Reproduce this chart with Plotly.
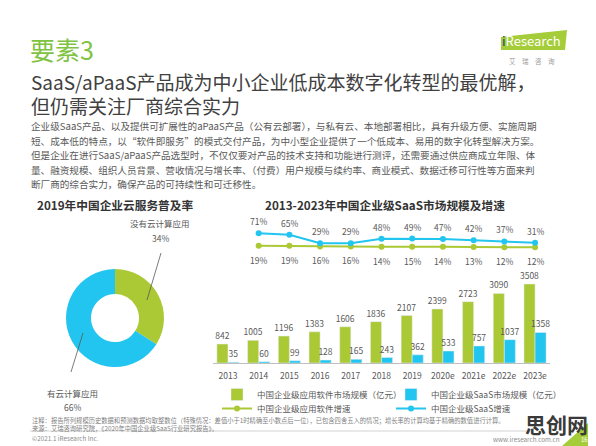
import plotly.graph_objects as go

FONT = "Noto Sans CJK SC"
GREEN, BLUE, LOGO_GREEN = "#abc934", "#22c5ef", "#80c241"
DARK, GREY, LIGHT = "#404040", "#595959", "#bfbfbf"
OFF = 8  # page body margin
W, H = 596 - OFF, 446 - OFF

# data
years = ["2013", "2014", "2015", "2016", "2017", "2018", "2019", "2020e", "2021e", "2022e", "2023e"]
software_size = [842, 1005, 1196, 1383, 1606, 1836, 2107, 2399, 2723, 3090, 3508]
saas_size = [35, 60, 99, 128, 165, 243, 362, 533, 757, 1037, 1358]
growth_years = years[1:]
software_growth = [19, 19, 16, 16, 14, 15, 14, 13, 12, 12]
saas_growth = [71, 65, 29, 29, 48, 49, 47, 42, 37, 31]
cloud_labels = ["没有云计算应用", "有云计算应用"]
cloud_share = [34, 66]

body = [
    "企业级SaaS产品、以及提供可扩展性的aPaaS产品（公有云部署），与私有云、本地部署相比，具有升级方便、实施周期",
    "短、成本低的特点，以“软件即服务”的模式交付产品，为中小型企业提供了一个低成本、易用的数字化转型解决方案。",
    "但是企业在进行SaaS/aPaaS产品选型时，不仅仅要对产品的技术支持和功能进行测评，还需要通过供应商成立年限、体",
    "量、融资规模、组织人员背景、营收情况与增长率、（付费）用户规模与续约率、商业模式、数据迁移可行性等方面来判",
    "断厂商的综合实力，确保产品的可持续性和可迁移性。",
]


def px(x):
    return (x - OFF) / W


def py(y):
    return 1 - (y - OFF) / H


fig = go.Figure()

# donut
fig.add_pie(labels=cloud_labels, values=cloud_share, hole=0.49, sort=False, direction="clockwise",
            marker=dict(colors=[GREEN, BLUE], line=dict(width=0)), textinfo="none", showlegend=False,
            hoverinfo="label+percent",
            domain=dict(x=[px(66), px(164)], y=[py(367), py(269)]))

# bars
fig.add_bar(x=years, y=software_size, name="中国企业级应用软件市场规模（亿元）", marker_color=GREEN,
            text=software_size, textposition="outside", constraintext="none", cliponaxis=False,
            textfont=dict(size=8.5, color=GREY), legend="legend")
fig.add_bar(x=years, y=saas_size, name="中国企业级SaaS市场规模（亿元）", marker_color=BLUE,
            text=saas_size, textposition="outside", constraintext="none", cliponaxis=False,
            textfont=dict(size=8.5, color=GREY), legend="legend")

# growth lines
fig.add_scatter(x=growth_years, y=software_growth, xaxis="x2", yaxis="y2", mode="lines+markers",
                line=dict(color=GREEN, width=2), marker=dict(size=6, color=GREEN),
                name="中国企业级应用软件增速", legend="legend2", cliponaxis=False)
fig.add_scatter(x=growth_years, y=saas_growth, xaxis="x2", yaxis="y2", mode="lines+markers",
                line=dict(color=BLUE, width=2), marker=dict(size=6, color=BLUE),
                name="中国企业级SaaS增速", legend="legend2", cliponaxis=False)

ann = []
# category axes take an index for annotation positions
for x, v in zip(growth_years, saas_growth):
    ann.append(dict(x=years.index(x), y=v, xref="x2", yref="y2", text=f"{v}%", showarrow=False,
                    yshift=12, font=dict(size=8.5, color=GREY)))
for x, v in zip(growth_years, software_growth):
    ann.append(dict(x=years.index(x), y=v, xref="x2", yref="y2", text=f"{v}%", showarrow=False,
                    yshift=-14, font=dict(size=8.5, color=GREY)))


def txt(x, y, s, size, color=GREY, anchor="left", bold=False):
    ann.append(dict(x=px(x), y=py(y), xref="paper", yref="paper", text=f"<b>{s}</b>" if bold else s,
                    showarrow=False, xanchor=anchor, yanchor="middle", font=dict(size=size, color=color)))


txt(28, 48.5, "要素3", 25, LOGO_GREEN)
txt(29, 82, "SaaS/aPaaS产品成为中小企业低成本数字化转型的最优解，", 19, DARK)
txt(29, 106, "但仍需关注厂商综合实力", 19, DARK)
for i, line in enumerate(body):
    txt(29, 126 + 14.6 * i, line, 9.6, GREY)

txt(115, 205, "2019年中国企业云服务普及率", 11.7, "#333333", "center", bold=True)
txt(385, 205, "2013-2023年中国企业级SaaS市场规模及增速", 11.7, "#333333", "center", bold=True)
txt(160, 223, cloud_labels[0], 8.5, GREY, "center")
txt(160, 238, f"{cloud_share[0]}%", 8.5, GREY, "center")
txt(72, 393, cloud_labels[1], 8.5, GREY, "center")
txt(72, 407, f"{cloud_share[1]}%", 8.5, GREY, "center")

txt(30, 420, "注释：报告所列规模历史数据和预测数据均取整数位（特殊情况：差值小于1时精确至小数点后一位），已包含四舍五入的情况；增长率的计算均基于精确的数值进行计算。", 6.3, "#7f7f7f")
txt(30, 428, "来源：艾瑞咨询研究院，《2020年中国企业级SaaS行业研究报告》。", 6.3, "#7f7f7f")
txt(30, 438.5, "©2021.1 iResearch Inc.", 6.3, "#8c8c8c")
txt(562, 439, "www.iresearch.com.cn", 6.3, "#8c8c8c", "right")

# logo
txt(531, 41, "<span style='color:#1d3f73'>i</span>Research", 13, "white", "center")
txt(532, 61, "艾　瑞　咨　询", 6.5, "#9a9a9a", "center")

# watermark + corner
txt(556, 424, "思创网", 21, "#3a3a3a", "center", bold=True)
txt(584, 439, "16", 6, "white", "center")

shapes = [
    dict(type="line", xref="paper", yref="paper", x0=px(161), y0=py(253), x1=px(147), y1=py(300),
         line=dict(color="#595959", width=0.8)),
    dict(type="line", xref="paper", yref="paper", x0=px(71), y0=py(372), x1=px(83), y1=py(333),
         line=dict(color="#595959", width=0.8)),
    dict(type="line", xref="paper", yref="paper", x0=px(30), y0=py(431), x1=px(530), y1=py(431),
         line=dict(color="#c8c8c8", width=0.8)),
    dict(type="path", xref="paper", yref="paper", layer="below",
         path=f"M {px(562)},{py(446)} L {px(596)},{py(446)} L {px(596)},{py(416)} Z",
         fillcolor="#a5cd39", line=dict(width=0)),
    dict(type="path", xref="paper", yref="paper", layer="below",
         path=f"M {px(501)},{py(37)} L {px(567)},{py(30)} L {px(565)},{py(50)} L {px(501)},{py(50)} Z",
         fillcolor="#a5cd39", line=dict(width=0)),
]

x_dom = [px(212.6), px(550.4)]
fig.update_layout(
    width=W, height=H, margin=dict(l=0, r=0, t=0, b=0),
    paper_bgcolor="white", plot_bgcolor="rgba(0,0,0,0)",
    font=dict(family=FONT, color=GREY),
    barmode="group", bargap=0.28, bargroupgap=0,
    xaxis=dict(domain=x_dom, type="category", categoryorder="array", categoryarray=years,
               range=[-0.5, 10.5], showline=True, linecolor=LIGHT, linewidth=1,
               ticks="", ticklabelstandoff=5, showgrid=False, tickfont=dict(size=8.5, color=GREY),
               fixedrange=True),
    yaxis=dict(domain=[py(363), py(270)], range=[0, 3508 * 93 / 79], visible=False, showgrid=False),
    xaxis2=dict(domain=x_dom, type="category", categoryorder="array", categoryarray=years,
                range=[-0.5, 10.5], anchor="y2", visible=False),
    yaxis2=dict(domain=[py(255), py(225)], range=[-20.2, 105.9], anchor="x2", visible=False),
    legend=dict(orientation="h", x=px(217), y=py(380), xanchor="left", yanchor="top",
                font=dict(size=8.5, color=GREY), entrywidth=129, entrywidthmode="pixels",
                bgcolor="rgba(0,0,0,0)", tracegroupgap=0),
    legend2=dict(orientation="h", x=px(217), y=py(394), xanchor="left", yanchor="top",
                 font=dict(size=8.5, color=GREY), entrywidth=129, entrywidthmode="pixels",
                 bgcolor="rgba(0,0,0,0)", tracegroupgap=0),
    annotations=ann, shapes=shapes,
)
fig.write_html("out.html")
